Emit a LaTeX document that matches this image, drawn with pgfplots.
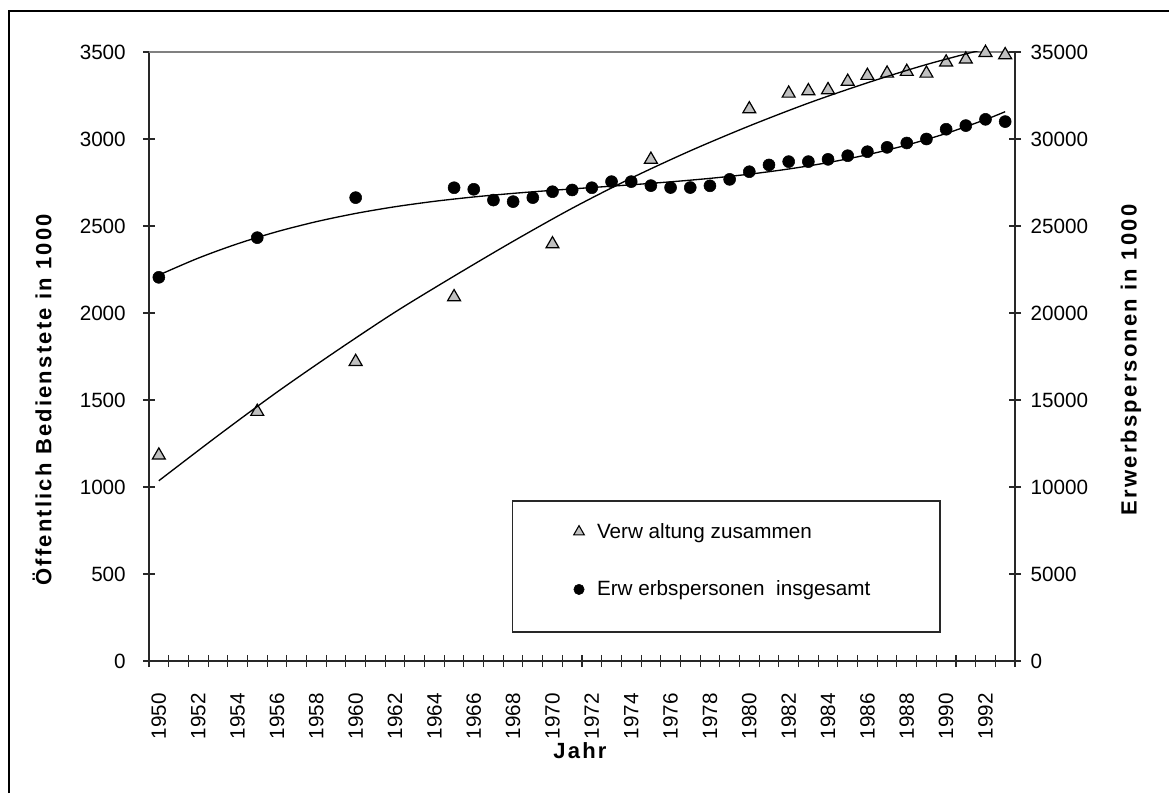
\documentclass[border=0pt]{standalone}
\usepackage{fontspec}
\setmainfont{Liberation Sans}
\usepackage{pgfplots}
\pgfplotsset{compat=1.18}
\definecolor{silver}{RGB}{192,192,192}
\definecolor{axgray}{RGB}{40,40,40}
\newcommand{\tfont}{\fontsize{15.5}{18}\selectfont}
\newcommand{\lfont}{\fontsize{16.5}{19}\selectfont\bfseries\addfontfeature{LetterSpace=10}}
\begin{document}
\begin{tikzpicture}[x=1pt,y=1pt]
\path[use as bounding box] (0,0) rectangle (876.75,594.75);
\draw[line width=0.9pt] (6.75,0) -- (6.75,586.5) -- (876.75,586.5);
\pgfplotsset{base/.style={
  scale only axis, width=649.5pt, height=456.75pt,
  at={(111.75pt,99pt)}, anchor=south west,
  xmin=1949.5, xmax=1993.5, clip mode=individual,
  /pgf/number format/assume math mode=true,
  /pgf/number format/1000 sep={},
  scaled y ticks=false, scaled x ticks=false,
  tick align=center, major tick length=9pt,
  tick style={axgray, line width=0.8pt},
  axis line style={-, axgray, line width=0.8pt},
  every outer x axis line/.append style={-},
  every outer y axis line/.append style={-},
  tick label style={font=\tfont},
}}
\begin{axis}[base,
  axis x line*=bottom, axis y line*=left,
  xtick pos=left, ytick pos=left, xticklabel pos=left, yticklabel pos=left,
  ymin=0, ymax=3500, ytick={0,500,...,3500},
  xtick={1950,1952,...,1992}, xtick style={draw=none},
  xticklabel style={yshift=-3.5pt, rotate=90, anchor=east, inner sep=0pt},
  xticklabel shift=16pt,
  yticklabel style={anchor=east, inner sep=0pt},
  yticklabel shift=12.75pt,
]
\draw[gray, line width=0.8pt] (rel axis cs:0,1) -- (rel axis cs:1,1);
\addplot[only marks, mark=triangle*, mark size=5.6pt,
  mark options={fill=silver, draw=black, line width=0.9pt}] coordinates {
 (1950,1182) (1955,1433) (1960,1720) (1965,2092) (1970,2396) (1975,2882)
 (1980,3172) (1982,3262) (1983,3276) (1984,3282) (1985,3330) (1986,3364)
 (1987,3377) (1988,3387) (1989,3377) (1990,3441) (1991,3458) (1992,3496) (1993,3483)
};
\addplot[smooth, no marks, black, line width=1pt] coordinates {
 (1950,1036) (1953,1295) (1956,1545) (1959,1780) (1962,2005) (1965,2212)
 (1968,2412) (1971,2602) (1974,2775) (1977,2932) (1980,3075) (1983,3206)
 (1986,3323) (1989,3428) (1992,3518) (1993,3544)
};
\node[rotate=90, font=\lfont] at (axis description cs:-0.1236,0.4286) {Öffentlich Bedienstete in 1000};
\node[font=\lfont] at (axis description cs:0.4977,-0.1478) {Jahr};
\end{axis}
\begin{axis}[base,
  axis x line*=bottom, axis y line*=right,
  xtick pos=left, ytick pos=right, yticklabel pos=right,
  ymin=0, ymax=35000, ytick={0,5000,...,35000},
  xtick={1949.5,1950.5,...,1993.5}, xticklabels={},
  yticklabel style={anchor=west, inner sep=0pt},
  yticklabel shift=7pt,
  legend style={draw=none, fill=none, inner sep=0pt, outer sep=0pt,
    at={(axis description cs:0.4873,0.2261)}, anchor=north west,
    row sep=30.5pt, column sep=7.5pt,
    nodes={inner sep=0pt, font=\tfont}},
  legend cell align=left,
  legend image code/.code={\path[draw=none,fill=none] (-6pt,-4pt) rectangle (6pt,4pt);
    \draw[#1] plot coordinates {(0pt,0pt)};},
]
\addlegendimage{only marks, mark=triangle*, mark size=4.6pt,
  mark options={fill=silver, draw=black, line width=0.8pt}}
\addlegendentry{Verw altung zusammen}
\addlegendimage{only marks, mark=*, mark size=3.9pt, mark options={fill=black, draw=black}}
\addlegendentry{Erw erbspersonen\ \ insgesamt}
\addplot[only marks, mark=*, mark size=4.5pt, mark options={fill=black, draw=black}, forget plot] coordinates {
 (1950,22050) (1955,24330) (1960,26630) (1965,27200) (1966,27110) (1967,26490)
 (1968,26400) (1969,26630) (1970,26970) (1971,27070) (1972,27200) (1973,27550)
 (1974,27550) (1975,27320) (1976,27210) (1977,27210) (1978,27310) (1979,27680)
 (1980,28120) (1981,28510) (1982,28700) (1983,28700) (1984,28830) (1985,29040)
 (1986,29270) (1987,29520) (1988,29770) (1989,30000) (1990,30560) (1991,30770)
 (1992,31130) (1993,31000)
};
\addplot[smooth, no marks, black, line width=1pt, forget plot] coordinates {
 (1950,22180) (1952,23153) (1954,23979) (1956,24673) (1958,25249) (1960,25722)
 (1962,26107) (1964,26418) (1966,26669) (1968,26875) (1970,27050) (1972,27210)
 (1974,27368) (1976,27538) (1978,27737) (1980,27978) (1982,28276) (1984,28644)
 (1986,29097) (1988,29651) (1990,30319) (1992,31117) (1993,31570)
};
\draw[axgray, line width=0.8pt] (axis description cs:0.4192,0.2627) rectangle (axis description cs:0.9134,0.0476);
\node[rotate=90, font=\lfont] at (axis description cs:1.1339,0.4943) {Erwerbspersonen in 1000};
\end{axis}
\end{tikzpicture}
\end{document}
